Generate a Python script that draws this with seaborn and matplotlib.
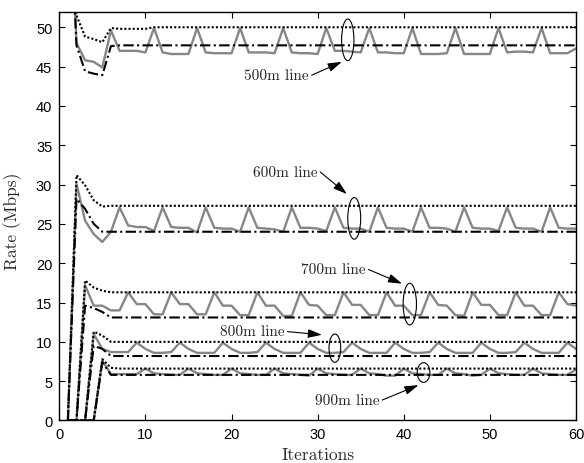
import matplotlib
matplotlib.use("Agg")
import matplotlib.pyplot as plt
import seaborn as sns
from matplotlib.patches import Ellipse

iterations = list(range(1, 61))

# ---- 500 m line ----
upper_500 = [72.0, 51.5, 48.8, 48.5, 48.1, 49.9, 49.8, 49.8, 49.8, 49.8,
             50.0, 50.0, 50.0, 50.0, 50.0, 50.0, 50.0, 50.0, 50.0, 50.0,
             50.0, 50.0, 50.0, 50.0, 50.0, 50.0, 50.0, 50.0, 50.0, 50.0,
             50.0, 50.0, 50.0, 50.0, 50.0, 50.0, 50.0, 50.0, 50.0, 50.0,
             50.0, 50.0, 50.0, 50.0, 50.0, 50.0, 50.0, 50.0, 50.0, 50.0,
             50.0, 50.0, 50.0, 50.0, 50.0, 50.0, 50.0, 50.0, 50.0, 50.0]
lower_500 = [72.0, 47.7, 44.4, 44.1, 43.9, 47.6, 47.7, 47.7, 47.7, 47.7,
             47.7, 47.7, 47.7, 47.7, 47.7, 47.7, 47.7, 47.7, 47.7, 47.7,
             47.7, 47.7, 47.7, 47.7, 47.7, 47.7, 47.7, 47.7, 47.7, 47.7,
             47.7, 47.7, 47.7, 47.7, 47.7, 47.7, 47.7, 47.7, 47.7, 47.7,
             47.7, 47.7, 47.7, 47.7, 47.7, 47.7, 47.7, 47.7, 47.7, 47.7,
             47.7, 47.7, 47.7, 47.7, 47.7, 47.7, 47.7, 47.7, 47.7, 47.7]
actual_500 = [72.0, 48.0, 45.8, 45.6, 44.9, 49.6, 47.0, 47.0, 47.0, 46.8,
              49.9, 46.8, 46.6, 46.6, 46.6, 49.9, 46.8, 46.7, 46.7, 46.7,
              49.9, 46.8, 46.8, 46.8, 46.7, 49.9, 46.8, 46.7, 46.7, 46.6,
              49.9, 47.0, 47.0, 46.9, 46.8, 49.9, 46.8, 46.8, 46.7, 46.7,
              49.9, 46.6, 46.6, 46.6, 46.7, 49.9, 46.6, 46.6, 46.6, 46.6,
              49.9, 46.8, 46.9, 46.9, 46.8, 49.9, 46.7, 46.7, 46.7, 47.3]

# ---- 600 m line ----
upper_600 = [0.0, 31.2, 29.9, 28.0, 27.2, 27.3, 27.3, 27.3, 27.3, 27.3,
             27.3, 27.3, 27.3, 27.3, 27.3, 27.3, 27.3, 27.3, 27.3, 27.3,
             27.3, 27.3, 27.3, 27.3, 27.3, 27.3, 27.3, 27.3, 27.3, 27.3,
             27.3, 27.3, 27.3, 27.3, 27.3, 27.3, 27.3, 27.3, 27.3, 27.3,
             27.3, 27.3, 27.3, 27.3, 27.3, 27.3, 27.3, 27.3, 27.3, 27.3,
             27.3, 27.3, 27.3, 27.3, 27.3, 27.3, 27.3, 27.3, 27.3, 27.3]
lower_600 = [0.0, 28.2, 26.9, 25.0, 24.0, 24.0, 24.0, 24.0, 24.0, 24.0,
             24.0, 24.0, 24.0, 24.0, 24.0, 24.0, 24.0, 24.0, 24.0, 24.0,
             24.0, 24.0, 24.0, 24.0, 24.0, 24.0, 24.0, 24.0, 24.0, 24.0,
             24.0, 24.0, 24.0, 24.0, 24.0, 24.0, 24.0, 24.0, 24.0, 24.0,
             24.0, 24.0, 24.0, 24.0, 24.0, 24.0, 24.0, 24.0, 24.0, 24.0,
             24.0, 24.0, 24.0, 24.0, 24.0, 24.0, 24.0, 24.0, 24.0, 24.0]
actual_600 = [0.0, 30.1, 25.4, 23.7, 22.7, 24.0, 27.1, 24.8, 24.6, 24.6,
              24.1, 27.1, 24.6, 24.5, 24.5, 23.9, 27.1, 24.5, 24.4, 24.4,
              24.0, 27.1, 24.5, 24.4, 24.3, 24.0, 27.1, 24.5, 24.5, 24.4,
              24.1, 27.1, 24.5, 24.4, 24.4, 24.0, 27.1, 24.5, 24.4, 24.4,
              24.0, 27.1, 24.5, 24.5, 24.4, 24.0, 27.1, 24.5, 24.4, 24.4,
              24.1, 27.1, 24.5, 24.4, 24.4, 24.0, 27.1, 24.5, 24.4, 24.4]

# ---- 700 m line ----
upper_700 = [0.0, 0.0, 17.8, 16.9, 16.5, 16.3, 16.3, 16.3, 16.3, 16.3,
             16.3, 16.3, 16.3, 16.3, 16.3, 16.3, 16.3, 16.3, 16.3, 16.3,
             16.3, 16.3, 16.3, 16.3, 16.3, 16.3, 16.3, 16.3, 16.3, 16.3,
             16.3, 16.3, 16.3, 16.3, 16.3, 16.3, 16.3, 16.3, 16.3, 16.3,
             16.3, 16.3, 16.3, 16.3, 16.3, 16.3, 16.3, 16.3, 16.3, 16.3,
             16.3, 16.3, 16.3, 16.3, 16.3, 16.3, 16.3, 16.3, 16.3, 16.3]
lower_700 = [0.0, 0.0, 14.6, 14.3, 13.8, 13.1, 13.1, 13.1, 13.1, 13.1,
             13.1, 13.1, 13.1, 13.1, 13.1, 13.1, 13.1, 13.1, 13.1, 13.1,
             13.1, 13.1, 13.1, 13.1, 13.1, 13.1, 13.1, 13.1, 13.1, 13.1,
             13.1, 13.1, 13.1, 13.1, 13.1, 13.1, 13.1, 13.1, 13.1, 13.1,
             13.1, 13.1, 13.1, 13.1, 13.1, 13.1, 13.1, 13.1, 13.1, 13.1,
             13.1, 13.1, 13.1, 13.1, 13.1, 13.1, 13.1, 13.1, 13.1, 13.1]
actual_700 = [0.0, 0.0, 17.2, 14.6, 14.6, 14.0, 14.0, 16.3, 14.8, 14.8,
              13.5, 13.5, 16.3, 14.8, 14.8, 13.5, 13.5, 16.3, 14.6, 14.6,
              13.4, 13.4, 16.3, 14.6, 14.6, 13.3, 13.3, 16.3, 14.7, 14.6,
              13.4, 13.4, 16.3, 14.7, 14.7, 13.4, 13.4, 16.3, 14.6, 14.6,
              13.4, 13.4, 16.3, 14.7, 14.6, 13.4, 13.3, 16.3, 14.7, 14.7,
              13.4, 13.4, 16.3, 14.6, 14.6, 13.4, 13.4, 16.3, 14.8, 14.6]

# ---- 800 m line ----
upper_800 = [0.0, 0.0, 0.0, 11.3, 10.8, 10.0, 10.0, 10.0, 10.0, 10.0,
             10.0, 10.0, 10.0, 10.0, 10.0, 10.0, 10.0, 10.0, 10.0, 10.0,
             10.0, 10.0, 10.0, 10.0, 10.0, 10.0, 10.0, 10.0, 10.0, 10.0,
             10.0, 10.0, 10.0, 10.0, 10.0, 10.0, 10.0, 10.0, 10.0, 10.0,
             10.0, 10.0, 10.0, 10.0, 10.0, 10.0, 10.0, 10.0, 10.0, 10.0,
             10.0, 10.0, 10.0, 10.0, 10.0, 10.0, 10.0, 10.0, 10.0, 10.0]
lower_800 = [0.0, 0.0, 0.0, 9.5, 9.1, 8.2, 8.2, 8.2, 8.2, 8.2,
             8.2, 8.2, 8.2, 8.2, 8.2, 8.2, 8.2, 8.2, 8.2, 8.2,
             8.2, 8.2, 8.2, 8.2, 8.2, 8.2, 8.2, 8.2, 8.2, 8.2,
             8.2, 8.2, 8.2, 8.2, 8.2, 8.2, 8.2, 8.2, 8.2, 8.2,
             8.2, 8.2, 8.2, 8.2, 8.2, 8.2, 8.2, 8.2, 8.2, 8.2,
             8.2, 8.2, 8.2, 8.2, 8.2, 8.2, 8.2, 8.2, 8.2, 8.2]
actual_800 = [0.0, 0.0, 0.0, 11.0, 9.1, 8.7, 8.7, 8.7, 9.9, 9.1,
              8.6, 8.6, 8.7, 9.9, 9.1, 8.6, 8.6, 8.6, 9.9, 9.1,
              8.6, 8.6, 8.7, 9.9, 9.1, 8.6, 8.6, 8.6, 9.9, 9.1,
              8.6, 8.6, 8.7, 9.9, 9.1, 8.6, 8.6, 8.6, 9.9, 9.1,
              8.6, 8.6, 8.7, 9.9, 9.1, 8.6, 8.6, 8.6, 9.9, 9.1,
              8.6, 8.6, 8.7, 9.9, 9.1, 8.6, 8.6, 8.6, 9.9, 9.1]

# ---- 900 m line ----
upper_900 = [0.0, 0.0, 0.0, 0.0, 7.8, 6.7, 6.6, 6.6, 6.6, 6.6,
             6.6, 6.6, 6.6, 6.6, 6.6, 6.6, 6.6, 6.6, 6.6, 6.6,
             6.6, 6.6, 6.6, 6.6, 6.6, 6.6, 6.6, 6.6, 6.6, 6.6,
             6.6, 6.6, 6.6, 6.6, 6.6, 6.6, 6.6, 6.6, 6.6, 6.6,
             6.6, 6.6, 6.6, 6.6, 6.6, 6.6, 6.6, 6.6, 6.6, 6.6,
             6.6, 6.6, 6.6, 6.6, 6.6, 6.6, 6.6, 6.6, 6.6, 6.6]
lower_900 = [0.0, 0.0, 0.0, 0.0, 7.4, 5.8, 5.8, 5.8, 5.8, 5.8,
             5.8, 5.8, 5.8, 5.8, 5.8, 5.8, 5.8, 5.8, 5.8, 5.8,
             5.8, 5.8, 5.8, 5.8, 5.8, 5.8, 5.8, 5.8, 5.8, 5.8,
             5.8, 5.8, 5.8, 5.8, 5.8, 5.8, 5.8, 5.8, 5.8, 5.8,
             5.8, 5.8, 5.8, 5.8, 5.8, 5.8, 5.8, 5.8, 5.8, 5.8,
             5.8, 5.8, 5.8, 5.8, 5.8, 5.8, 5.8, 5.8, 5.8, 5.8]
actual_900 = [0.0, 0.0, 0.0, 0.0, 7.6, 5.9, 5.9, 5.9, 5.9, 6.6,
              6.0, 5.9, 5.8, 5.8, 6.6, 6.0, 5.9, 5.8, 5.8, 6.6,
              6.0, 5.9, 5.8, 5.8, 6.6, 6.0, 5.9, 5.8, 5.7, 6.6,
              6.0, 5.9, 5.8, 5.8, 6.6, 6.0, 5.9, 5.7, 5.7, 6.6,
              6.0, 5.9, 5.8, 5.8, 6.6, 6.0, 5.9, 5.7, 5.8, 6.6,
              6.0, 5.9, 5.8, 5.8, 6.6, 6.0, 5.9, 5.8, 5.8, 6.5]

line_groups = [
    (actual_500, lower_500, upper_500),
    (actual_600, lower_600, upper_600),
    (actual_700, lower_700, upper_700),
    (actual_800, lower_800, upper_800),
    (actual_900, lower_900, upper_900),
]

# label text, label anchor (right edge), arrow head, ellipse centre, ellipse size
annotations = [
    ("500m line", (29.0, 43.9), (32.8, 45.6), (33.5, 48.4), (1.43, 5.3)),
    ("600m line", (30.0, 31.6), (33.4, 28.8), (34.25, 25.7), (1.5, 5.3)),
    ("700m line", (35.6, 19.2), (39.8, 17.4), (40.7, 14.8), (1.55, 5.3)),
    ("800m line", (26.2, 11.3), (30.5, 10.9), (32.0, 9.2), (1.36, 3.6)),
    ("900m line", (37.2, 2.6), (41.7, 4.5), (42.3, 6.1), (1.47, 2.5)),
]

sns.set_style("ticks")
plt.rcParams["font.family"] = ["Liberation Sans", "DejaVu Sans"]

fig = plt.figure(figsize=(5.84, 4.64), dpi=100)
ax = fig.add_axes([0.1015, 0.0916, 0.8848, 0.8814])

for actual, lower, upper in line_groups:
    sns.lineplot(x=iterations, y=actual, ax=ax, color="#868686",
                 linewidth=1.7, estimator=None, sort=False, zorder=2)
    sns.lineplot(x=iterations, y=lower, ax=ax, color="black",
                 linewidth=1.5, estimator=None, sort=False, zorder=3,
                 dashes=False, linestyle=(0, (5, 1.6, 1, 1.6)))
    sns.lineplot(x=iterations, y=upper, ax=ax, color="black",
                 linewidth=1.5, estimator=None, sort=False, zorder=4,
                 dashes=False, linestyle=(0, (1, 1)))

serif = "cmr10"
for text, anchor, head, centre, size in annotations:
    ax.text(anchor[0], anchor[1], text, ha="right", va="center",
            fontsize=11, family=serif, zorder=6)
    ax.annotate("", xy=head, xytext=(anchor[0] + 0.3, anchor[1]),
                arrowprops=dict(arrowstyle="-|>,head_length=0.7,head_width=0.22",
                                color="black", lw=0.8, mutation_scale=12,
                                shrinkA=0, shrinkB=0), zorder=6)
    ax.add_patch(Ellipse(centre, size[0], size[1], fill=False,
                         edgecolor="black", lw=0.8, zorder=6))

ax.set_xlim(0, 60)
ax.set_ylim(0, 52)
ax.set_xticks(range(0, 61, 10))
ax.set_yticks(range(0, 51, 5))
ax.tick_params(direction="in", length=4, width=0.8, top=True, right=True,
               labelsize=10.5, colors="black", pad=5)
for spine in ax.spines.values():
    spine.set_visible(True)
    spine.set_linewidth(1.0)
    spine.set_color("black")

ax.set_xlabel("Iterations", family=serif, fontsize=12.5)
ax.set_ylabel("Rate (Mbps)", family=serif, fontsize=12.5)
ax.xaxis.set_label_coords(0.5, -0.065)
ax.yaxis.set_label_coords(-0.072, 0.49)

fig.savefig("out.png", dpi=100)
